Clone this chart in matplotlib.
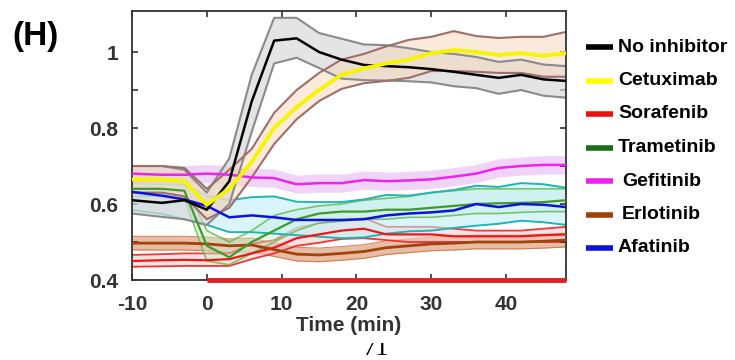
import matplotlib
matplotlib.use("Agg")
import matplotlib.pyplot as plt
from matplotlib.lines import Line2D
from matplotlib.transforms import Bbox
import numpy as np

# ---------------- data ----------------
time_min = [-10, -6, -3, 0, 3, 6, 9, 12, 15, 18, 21, 24, 27, 30, 33, 36, 39, 42, 45, 48]

no_inh = [0.61, 0.603, 0.61, 0.585, 0.66, 0.87, 1.03, 1.036, 1.0, 0.98, 0.966, 0.963, 0.96, 0.955, 0.948, 0.94, 0.932, 0.94, 0.928, 0.924]
no_inh_hi = [0.70, 0.70, 0.69, 0.63, 0.72, 0.94, 1.09, 1.09, 1.05, 1.035, 1.02, 1.018, 1.01, 1.0, 0.995, 0.987, 0.974, 0.98, 0.967, 0.963]
no_inh_lo = [0.575, 0.566, 0.56, 0.545, 0.60, 0.79, 0.97, 0.985, 0.958, 0.93, 0.926, 0.925, 0.923, 0.92, 0.91, 0.905, 0.89, 0.9, 0.885, 0.88]

cetux = [0.665, 0.665, 0.66, 0.598, 0.64, 0.71, 0.80, 0.855, 0.90, 0.94, 0.957, 0.97, 0.98, 0.997, 1.005, 1.0, 0.992, 0.997, 0.99, 0.997]
cetux_hi = [0.70, 0.70, 0.695, 0.64, 0.69, 0.745, 0.84, 0.90, 0.945, 0.98, 0.995, 1.015, 1.032, 1.04, 1.055, 1.042, 1.037, 1.04, 1.04, 1.053]
cetux_lo = [0.63, 0.63, 0.62, 0.56, 0.59, 0.67, 0.758, 0.823, 0.871, 0.903, 0.918, 0.924, 0.932, 0.95, 0.95, 0.948, 0.945, 0.945, 0.935, 0.935]

soraf = [0.45, 0.452, 0.453, 0.452, 0.455, 0.47, 0.485, 0.51, 0.52, 0.53, 0.535, 0.52, 0.52, 0.52, 0.515, 0.515, 0.515, 0.515, 0.518, 0.52]
soraf_hi = [0.466, 0.468, 0.47, 0.47, 0.47, 0.495, 0.505, 0.537, 0.55, 0.557, 0.563, 0.54, 0.54, 0.54, 0.535, 0.53, 0.53, 0.53, 0.535, 0.54]
soraf_lo = [0.435, 0.436, 0.437, 0.437, 0.437, 0.455, 0.47, 0.49, 0.498, 0.508, 0.51, 0.505, 0.5, 0.5, 0.5, 0.5, 0.5, 0.5, 0.5, 0.5]

trame = [0.64, 0.64, 0.635, 0.49, 0.46, 0.50, 0.53, 0.56, 0.575, 0.58, 0.58, 0.585, 0.585, 0.59, 0.595, 0.60, 0.602, 0.603, 0.605, 0.61]
trame_hi = [0.66, 0.66, 0.655, 0.53, 0.50, 0.53, 0.57, 0.585, 0.595, 0.60, 0.61, 0.615, 0.62, 0.63, 0.635, 0.64, 0.64, 0.64, 0.64, 0.64]
trame_lo = [0.62, 0.62, 0.615, 0.45, 0.44, 0.47, 0.50, 0.53, 0.55, 0.555, 0.56, 0.56, 0.565, 0.565, 0.57, 0.575, 0.575, 0.578, 0.58, 0.58]

gefit = [0.68, 0.677, 0.677, 0.68, 0.677, 0.67, 0.668, 0.652, 0.655, 0.655, 0.663, 0.66, 0.662, 0.665, 0.672, 0.68, 0.695, 0.70, 0.703, 0.703]
gefit_sd = [0.024] * 20

erlot = [0.497, 0.497, 0.497, 0.495, 0.49, 0.492, 0.48, 0.468, 0.466, 0.47, 0.475, 0.485, 0.49, 0.495, 0.497, 0.50, 0.50, 0.50, 0.502, 0.505]
erlot_sd = [0.018] * 20

afat = [0.632, 0.622, 0.612, 0.595, 0.565, 0.57, 0.565, 0.558, 0.558, 0.558, 0.56, 0.57, 0.575, 0.578, 0.583, 0.60, 0.592, 0.60, 0.598, 0.592]
afat_hi = [0.655, 0.652, 0.65, 0.622, 0.61, 0.618, 0.62, 0.606, 0.605, 0.605, 0.612, 0.624, 0.622, 0.63, 0.637, 0.648, 0.645, 0.655, 0.652, 0.643]
afat_lo = [0.584, 0.574, 0.56, 0.545, 0.526, 0.526, 0.522, 0.518, 0.514, 0.51, 0.512, 0.522, 0.528, 0.53, 0.537, 0.543, 0.548, 0.556, 0.552, 0.545]

legend_names = ["No inhibitor", "Cetuximab", "Sorafenib", "Trametinib", "Gefitinib", "Erlotinib", "Afatinib"]
legend_colors = ["#000000", "#ffff00", "#ee1111", "#1a6e1a", "#ee22ee", "#a0400a", "#1010dd"]

x_ticks = [-10, 0, 10, 20, 30, 40]
y_ticks = [0.4, 0.5, 0.6, 0.7, 0.8, 0.9, 1.0]
y_ticklabels = ["0.4", "", "0.6", "", "0.8", "", "1"]
treatment_start = 0

# ---------------- figure ----------------
W, H = 735, 360
fig = plt.figure(figsize=(W / 100, H / 100), dpi=100)
ax = fig.add_axes([132 / W, 1 - 280 / H, (566 - 132) / W, (280 - 11) / H])
t = np.array(time_min)
FONT = "Liberation Sans"

def band(lo, hi, fill, fill_alpha, edge=None, edge_lw=1.3, edge_alpha=1.0, z=1):
    ax.fill_between(t, lo, hi, color=fill, alpha=fill_alpha, lw=0, zorder=z)
    if edge is not None:
        ax.plot(t, lo, color=edge, lw=edge_lw, alpha=edge_alpha, zorder=z + 0.1)
        ax.plot(t, hi, color=edge, lw=edge_lw, alpha=edge_alpha, zorder=z + 0.1)

# bands
band(np.array(erlot) - np.array(erlot_sd), np.array(erlot) + np.array(erlot_sd),
     "#c8703a", 0.45, "#d06a3a", 0.8, 0.8, z=1)
band(soraf_lo, soraf_hi, "#ffc8c8", 0.5, "#ee2222", 1.3, 0.9, z=1.2)
band(afat_lo, afat_hi, "#bdeef6", 0.55, "#22b4b4", 1.4, 1.0, z=1.4)
band(trame_lo, trame_hi, "#c6f0cf", 0.45, "#66bb55", 1.2, 0.85, z=1.3)
band(np.array(gefit) - np.array(gefit_sd), np.array(gefit) + np.array(gefit_sd),
     "#e2aaf2", 0.5, None, z=1.5)
band(no_inh_lo, no_inh_hi, "#d9d9d9", 0.7, "#8a8a8a", 1.5, 1.0, z=1.6)
band(cetux_lo, cetux_hi, "#f6d9bf", 0.55, "#9e6f6a", 1.5, 1.0, z=1.7)

# mean lines
ax.plot(t, erlot, color="#a3420c", lw=2.0, zorder=3)
ax.plot(t, soraf, color="#e81818", lw=1.6, zorder=3)
ax.plot(t, trame, color="#3f9a2a", lw=1.6, zorder=3)
ax.plot(t, afat, color="#1010dd", lw=1.8, zorder=3.2)
ax.plot(t, gefit, color="#ee22ee", lw=1.8, zorder=3.3)
ax.plot(t, no_inh, color="#000000", lw=1.8, zorder=3.4)
ax.plot(t, cetux, color="#f5f500", lw=2.8, zorder=3.5)

ax.set_xlim(-10, 48)
ax.set_ylim(0.4, 1.108)

ax.set_xticks(x_ticks)
ax.set_xticklabels([str(v) for v in x_ticks])
ax.set_yticks(y_ticks)
ax.set_yticklabels(y_ticklabels)
ax.tick_params(direction="in", length=4, width=1.2, top=True, right=True,
               labelsize=15, labelcolor="#333333", color="#333333")
ax.tick_params(axis="x", pad=11)
ax.tick_params(axis="y", pad=10)
for lab in ax.get_xticklabels() + ax.get_yticklabels():
    lab.set_fontfamily(FONT)
    lab.set_fontweight("bold")
for s in ax.spines.values():
    s.set_linewidth(1.3)
    s.set_color("#333333")

ax.set_xlabel("Time (min)", fontsize=15, fontweight="bold", family=FONT,
              color="#333333", labelpad=1)

# treatment bar along the x axis
ax.plot([treatment_start, 48], [0.4, 0.4], color="#e02020", lw=3.5,
        solid_capstyle="butt", clip_on=False, zorder=5,
        transform=ax.transData)

# panel label
fig.text(12 / W, 1 - 37 / H, "(H)", fontsize=24, fontweight="bold", family=FONT,
         va="center", ha="left")

# legend (manual)
for i, (name, col) in enumerate(zip(legend_names, legend_colors)):
    yc = 1 - (47 + 33.5 * i) / H
    fig.add_artist(Line2D([586 / W, 613 / W], [yc, yc], color=col, lw=4,
                          transform=fig.transFigure, solid_capstyle="butt"))
    xoff = 622 if name in ("Gefitinib", "Erlotinib") else 618
    fig.text(xoff / W, yc, name, fontsize=14, fontweight="bold", family=FONT,
             va="center", ha="left")

# stray page-number fragment at bottom (partly hidden in the reference)
frag = fig.text(376 / W, 5 / H, "71", fontsize=19, family="Liberation Serif",
                ha="center", va="baseline")
frag.set_clip_on(True)
frag.set_clip_box(Bbox.from_extents(340, 0, 420, 17))

fig.savefig("out.png", dpi=100)
